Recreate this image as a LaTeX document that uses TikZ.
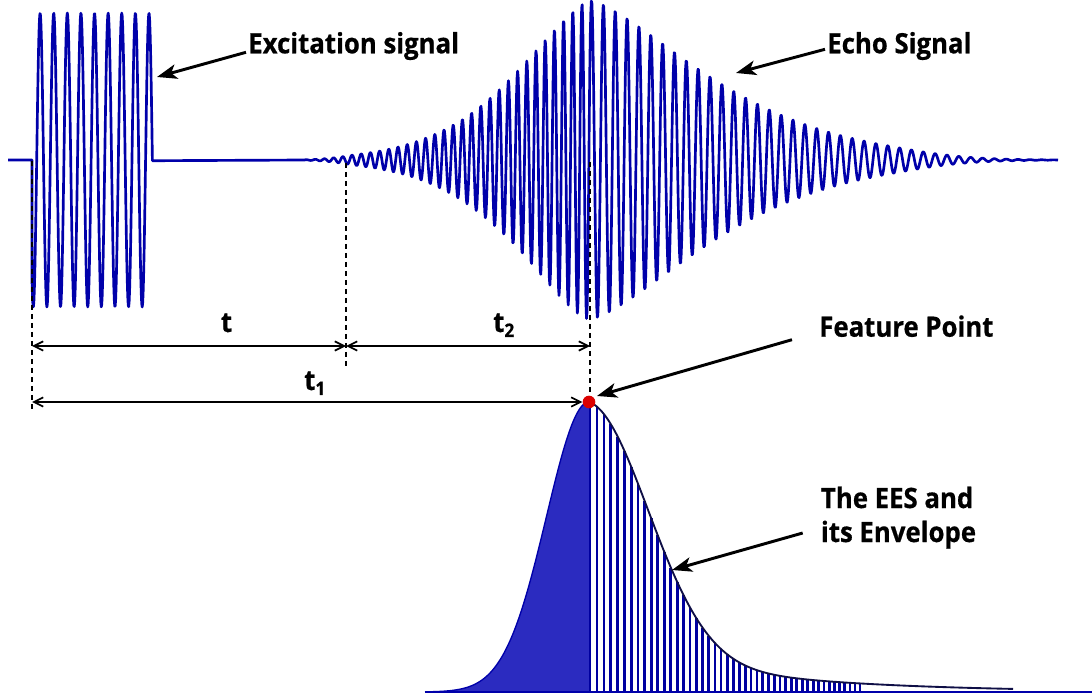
\documentclass[tikz,border=0pt]{standalone}
\usepackage{fontspec}
\setmainfont{Open Sans}[FakeStretch=0.92, BoldFeatures={FakeBold=0.6}]
\usetikzlibrary{arrows.meta}
\definecolor{sig}{RGB}{0,0,170}
\definecolor{eesfill}{RGB}{43,43,192}
\definecolor{stripecol}{RGB}{0,0,160}
\definecolor{envcol}{RGB}{15,15,70}
\definecolor{dotred}{RGB}{220,0,0}
\begin{document}
\begin{tikzpicture}[x=0.75pt,y=-0.75pt,
  declare function={
    ea(\x)=160*exp(-min(9,pow(abs(590-\x)/((\x<590)*103.5+(\x>=590)*162)+0.0001,(\x<590)*1.49+(\x>=590)*1.44)))
           *exp(-min(9,(max(0,\x-880)/110)*(max(0,\x-880)/110)+(max(0,360-\x)/40)*(max(0,360-\x)/40)));
    ph(\x)=(\x-590)/((\x<590)*9.2+(\x>=590)*11.85);
    env(\x)=692-290*((\x<589)*exp(-min(10,((589-\x)/60)*((589-\x)/60)))
           +(\x>=589)*(0.82*exp(-min(10,((\x-589)/85)*((\x-589)/85)))+0.18*exp(-(\x-589)/150)));
  },
  sigline/.style={draw=sig, line width=2pt, line join=round},
  callout/.style={draw=black, line width=2.2pt, -{Stealth[length=15pt,width=11pt,inset=4pt]}},
  dimline/.style={draw=black, line width=1.3pt, {Straight Barb[length=7pt,width=7pt]}-{Straight Barb[length=7pt,width=7pt]}},
  guide/.style={draw=black, line width=1.3pt, dash pattern=on 3.75pt off 3pt},
  lbl/.style={font=\fontsize{21}{25.5}\selectfont\bfseries, inner sep=0pt, text=black},
  stripe/.style={draw=stripecol, line width=2pt},
  subs/.style={},
]
\useasboundingbox[fill=white] (0,0) rectangle (1092,698);

% ---- signals ----
\draw[sigline] (8,160) -- (32,160)
  -- plot[domain=32:152.4, samples=260] (\x,{160+147*cos((\x-33.3)*26.4511)})
  -- (305,160)
  -- plot[domain=305:1058, samples=1400] (\x,{160-ea(\x)*cos(360*(ph(\x)+0.8696))});

% ---- EES and envelope ----
\fill[eesfill] (425,692) -- plot[domain=425:589, samples=140] (\x,{env(\x)}) -- (589,692) -- cycle;
\draw[draw=sig, line width=1pt] plot[domain=425:589, samples=140] (\x,{env(\x)});
\foreach \n in {0,...,45}{
  \pgfmathsetmacro\xs{590+7*\n-\n*\n/45}
  \draw[stripe] (\xs,692) -- (\xs,{env(\xs)});
}
\draw[draw=envcol, line width=1.4pt] plot[domain=589:1013, samples=220] (\x,{env(\x)});
\draw[draw=sig, line width=2pt] (425,692) -- (1092,692);

% ---- guides ----
\coordinate (ga1) at (32,161);  \coordinate (ga2) at (32,413);
\coordinate (gb1) at (346,163); \coordinate (gb2) at (346,368);
\coordinate (gc1) at (590,162); \coordinate (gc2) at (590,394);
\draw[guide] (ga1) -- (ga2);
\draw[guide] (gb1) -- (gb2);
\draw[guide] (gc1) -- (gc2);

% ---- feature point ----
\node[circle, fill=dotred, inner sep=0pt, minimum size=9.5pt] (fp) at (589,402) {};

% ---- dimension arrows ----
\coordinate (d0) at (32,346); \coordinate (d1) at (346,346); \coordinate (d2) at (590,346);
\coordinate (e0) at (32,402);
\draw[dimline] (d0) -- (d1);
\draw[dimline] (d1) -- (d2);
\draw[dimline] (e0) -- (fp.west);
\node[lbl, anchor=base] (lt) at (226.5,332) {t};
\node[lbl, anchor=base west] (lt2) at (493,332) {t\raisebox{-3.75pt}{\fontsize{14}{14}\selectfont 2}};
\node[lbl, anchor=base west] (lt1) at (304,390) {t\raisebox{-3.75pt}{\fontsize{14}{14}\selectfont 1}};

% ---- labels and callouts ----
\node[lbl, anchor=base west] (exc) at (248,53.3) {Excitation signal};
\node[lbl, anchor=base west] (echo) at (827,53.3) {Echo Signal};
\node[lbl, anchor=base west] (feat) at (819,336.7) {Feature Point};
\node[lbl, anchor=base west, align=left] (ees) at (820.7,542) {The EES and\\its Envelope};
\coordinate (excT) at (157,77);
\coordinate (echoT) at (736,73);
\coordinate (featT) at (597,396);
\coordinate (eesT) at (672,570);
\draw[callout] ([shift={(-2,-1)}]exc.base west) -- (excT);
\draw[callout] ([shift={(-2,-4)}]echo.base west) -- (echoT);
\draw[callout] ([shift={(-27,3)}]feat.base west) -- (featT);
\draw[callout] ([shift={(-18,-9)}]ees.base west) -- (eesT);
\end{tikzpicture}
\end{document}
